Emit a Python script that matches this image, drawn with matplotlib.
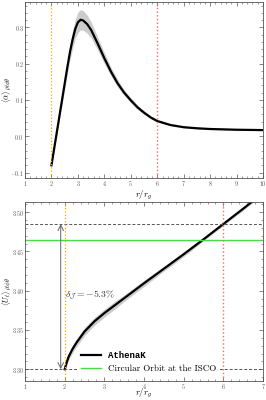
import matplotlib
matplotlib.use("Agg")
import matplotlib.pyplot as plt
import matplotlib.ticker as mticker
import numpy as np

plt.rcParams["font.family"] = "serif"
plt.rcParams["font.serif"] = ["cmr10", "DejaVu Serif"]
plt.rcParams["mathtext.fontset"] = "cm"
plt.rcParams["axes.formatter.use_mathtext"] = True

# ---- top panel: alpha vs r ----
r_alpha = [2.0, 2.1, 2.2, 2.3, 2.4, 2.5, 2.6, 2.7, 2.8, 2.9, 3.0, 3.1, 3.2,
           3.35, 3.5, 3.75, 4.0, 4.25, 4.5, 4.75, 5.0, 5.25, 5.5, 5.75, 6.0,
           6.5, 7.0, 7.5, 8.0, 9.0, 10.0]
alpha = [-0.08, -0.035, 0.01, 0.055, 0.10, 0.145, 0.19, 0.232, 0.267, 0.296,
         0.314, 0.321, 0.319, 0.309, 0.293, 0.255, 0.215, 0.178, 0.146,
         0.12, 0.099, 0.08, 0.065, 0.052, 0.042, 0.031, 0.025, 0.022, 0.020,
         0.018, 0.017]
alpha_err = [0.002, 0.004, 0.006, 0.009, 0.012, 0.015, 0.018, 0.021, 0.024,
             0.026, 0.028, 0.028, 0.027, 0.025, 0.022, 0.018, 0.015, 0.012,
             0.010, 0.008, 0.007, 0.006, 0.005, 0.004, 0.003, 0.002, 0.002,
             0.002, 0.001, 0.001, 0.001]

# ---- bottom panel: U_t vs r ----
r_ut = [2.0, 2.05, 2.1, 2.2, 2.3, 2.4, 2.5, 2.75, 3.0, 3.25, 3.5, 3.75, 4.0,
        4.5, 5.0, 5.5, 6.0, 6.5, 6.8]
ut = [3.300, 3.3085, 3.316, 3.326, 3.334, 3.341, 3.348, 3.361, 3.3715, 3.381,
      3.3905, 3.400, 3.4095, 3.428, 3.4465, 3.4655, 3.485, 3.5045, 3.5165]
ut_err = [0.002, 0.003, 0.004, 0.005, 0.005, 0.005, 0.005, 0.005, 0.005,
          0.005, 0.004, 0.004, 0.004, 0.003, 0.003, 0.002, 0.002, 0.002, 0.002]

u_isco_level = 3.485
u_circ = 3.464
u_min = 3.300
r_isco = 6.0
r_horizon = 2.0


def style_axes(ax, yfmt):
    ax.minorticks_on()
    ax.tick_params(which="both", direction="in", top=True, right=True,
                   labelsize=4.3, colors="#555555", pad=0.8)
    ax.tick_params(which="major", length=3, width=0.5)
    ax.tick_params(which="minor", length=1.5, width=0.4)
    ax.xaxis.set_major_formatter(mticker.FormatStrFormatter(r"$%d$"))
    ax.yaxis.set_major_formatter(mticker.FormatStrFormatter(yfmt))
    for s in ax.spines.values():
        s.set_linewidth(0.6)
        s.set_color("#555555")


fig = plt.figure(figsize=(2.66, 4.0), dpi=100)
tf = fig.transFigure

ax1 = fig.add_axes([0.094, 0.555, 0.895, 0.44])
ax1.fill_between(r_alpha, np.array(alpha) - np.array(alpha_err),
                 np.array(alpha) + np.array(alpha_err), color="#cccccc", lw=0)
ax1.plot(r_alpha, alpha, color="black", lw=1.6)
ax1.axvline(r_horizon, color="orange", ls=":", lw=0.9)
ax1.axvline(r_isco, color="#ff6666", ls=":", lw=1.0)
ax1.set_xlim(1, 10)
ax1.set_ylim(-0.115, 0.37)
ax1.set_xticks(range(1, 11))
ax1.set_yticks([-0.1, 0.0, 0.1, 0.2, 0.3])
ax1.set_xlabel(r"$r/r_g$", fontsize=6.3, va="top")
ax1.xaxis.set_label_coords(0.5415, 0.528, transform=tf)
ax1.set_ylabel(r"$\langle\alpha\rangle_{\rho t\phi\theta}$", fontsize=5.8, va="top")
ax1.yaxis.set_label_coords(0.003, 0.775, transform=tf)
style_axes(ax1, r"$%.1f$")

ax2 = fig.add_axes([0.094, 0.0475, 0.895, 0.4475])
ax2.fill_between(r_ut, np.array(ut) - np.array(ut_err),
                 np.array(ut) + np.array(ut_err), color="#cccccc", lw=0)
ax2.plot(r_ut, ut, color="black", lw=1.6, label=r"AthenaK")
ax2.axhline(u_circ, color="#44dd44", lw=1.0, label="Circular Orbit at the ISCO")
ax2.axhline(u_isco_level, color="#555555", ls="--", lw=0.7, dashes=(3, 2))
ax2.axhline(u_min, color="#555555", ls="--", lw=0.7, dashes=(3, 2))
ax2.axvline(r_horizon, color="orange", ls=":", lw=0.9)
ax2.axvline(r_isco, color="#ff6666", ls=":", lw=1.0)
ax2.annotate("", xy=(1.9, u_isco_level), xytext=(1.9, u_min),
             arrowprops=dict(arrowstyle="<->", color="#666666", lw=0.7,
                             shrinkA=0, shrinkB=0))
ax2.text(2.0, 3.394, r"$\delta_{\mathcal{J}} = -5.3\%$", fontsize=7,
         color="#333333", va="center")
ax2.set_xlim(1, 7)
ax2.set_ylim(3.285, 3.513)
ax2.set_xticks(range(1, 8))
ax2.set_yticks([3.30, 3.35, 3.40, 3.45, 3.50])
ax2.set_xlabel(r"$r/r_g$", fontsize=6.3, va="bottom")
ax2.xaxis.set_label_coords(0.5415, 0.001, transform=tf)
ax2.set_ylabel(r"$\langle U_t\rangle_{\rho t\phi\theta}$", fontsize=5.8, va="top")
ax2.yaxis.set_label_coords(0.003, 0.27125, transform=tf)
style_axes(ax2, r"$%.2f$")

leg = ax2.legend(loc="lower left", bbox_to_anchor=(0.2, 0.0), fontsize=6.5,
                 frameon=True, framealpha=1, edgecolor="white",
                 handlelength=2.2, borderpad=0.4, labelspacing=0.5)
leg.get_frame().set_linewidth(0)
t0 = leg.get_texts()[0]
t0.set_fontfamily("Liberation Mono")
t0.set_fontweight("bold")
t0.set_fontsize(6.5)

fig.savefig("out.png", dpi=100)
